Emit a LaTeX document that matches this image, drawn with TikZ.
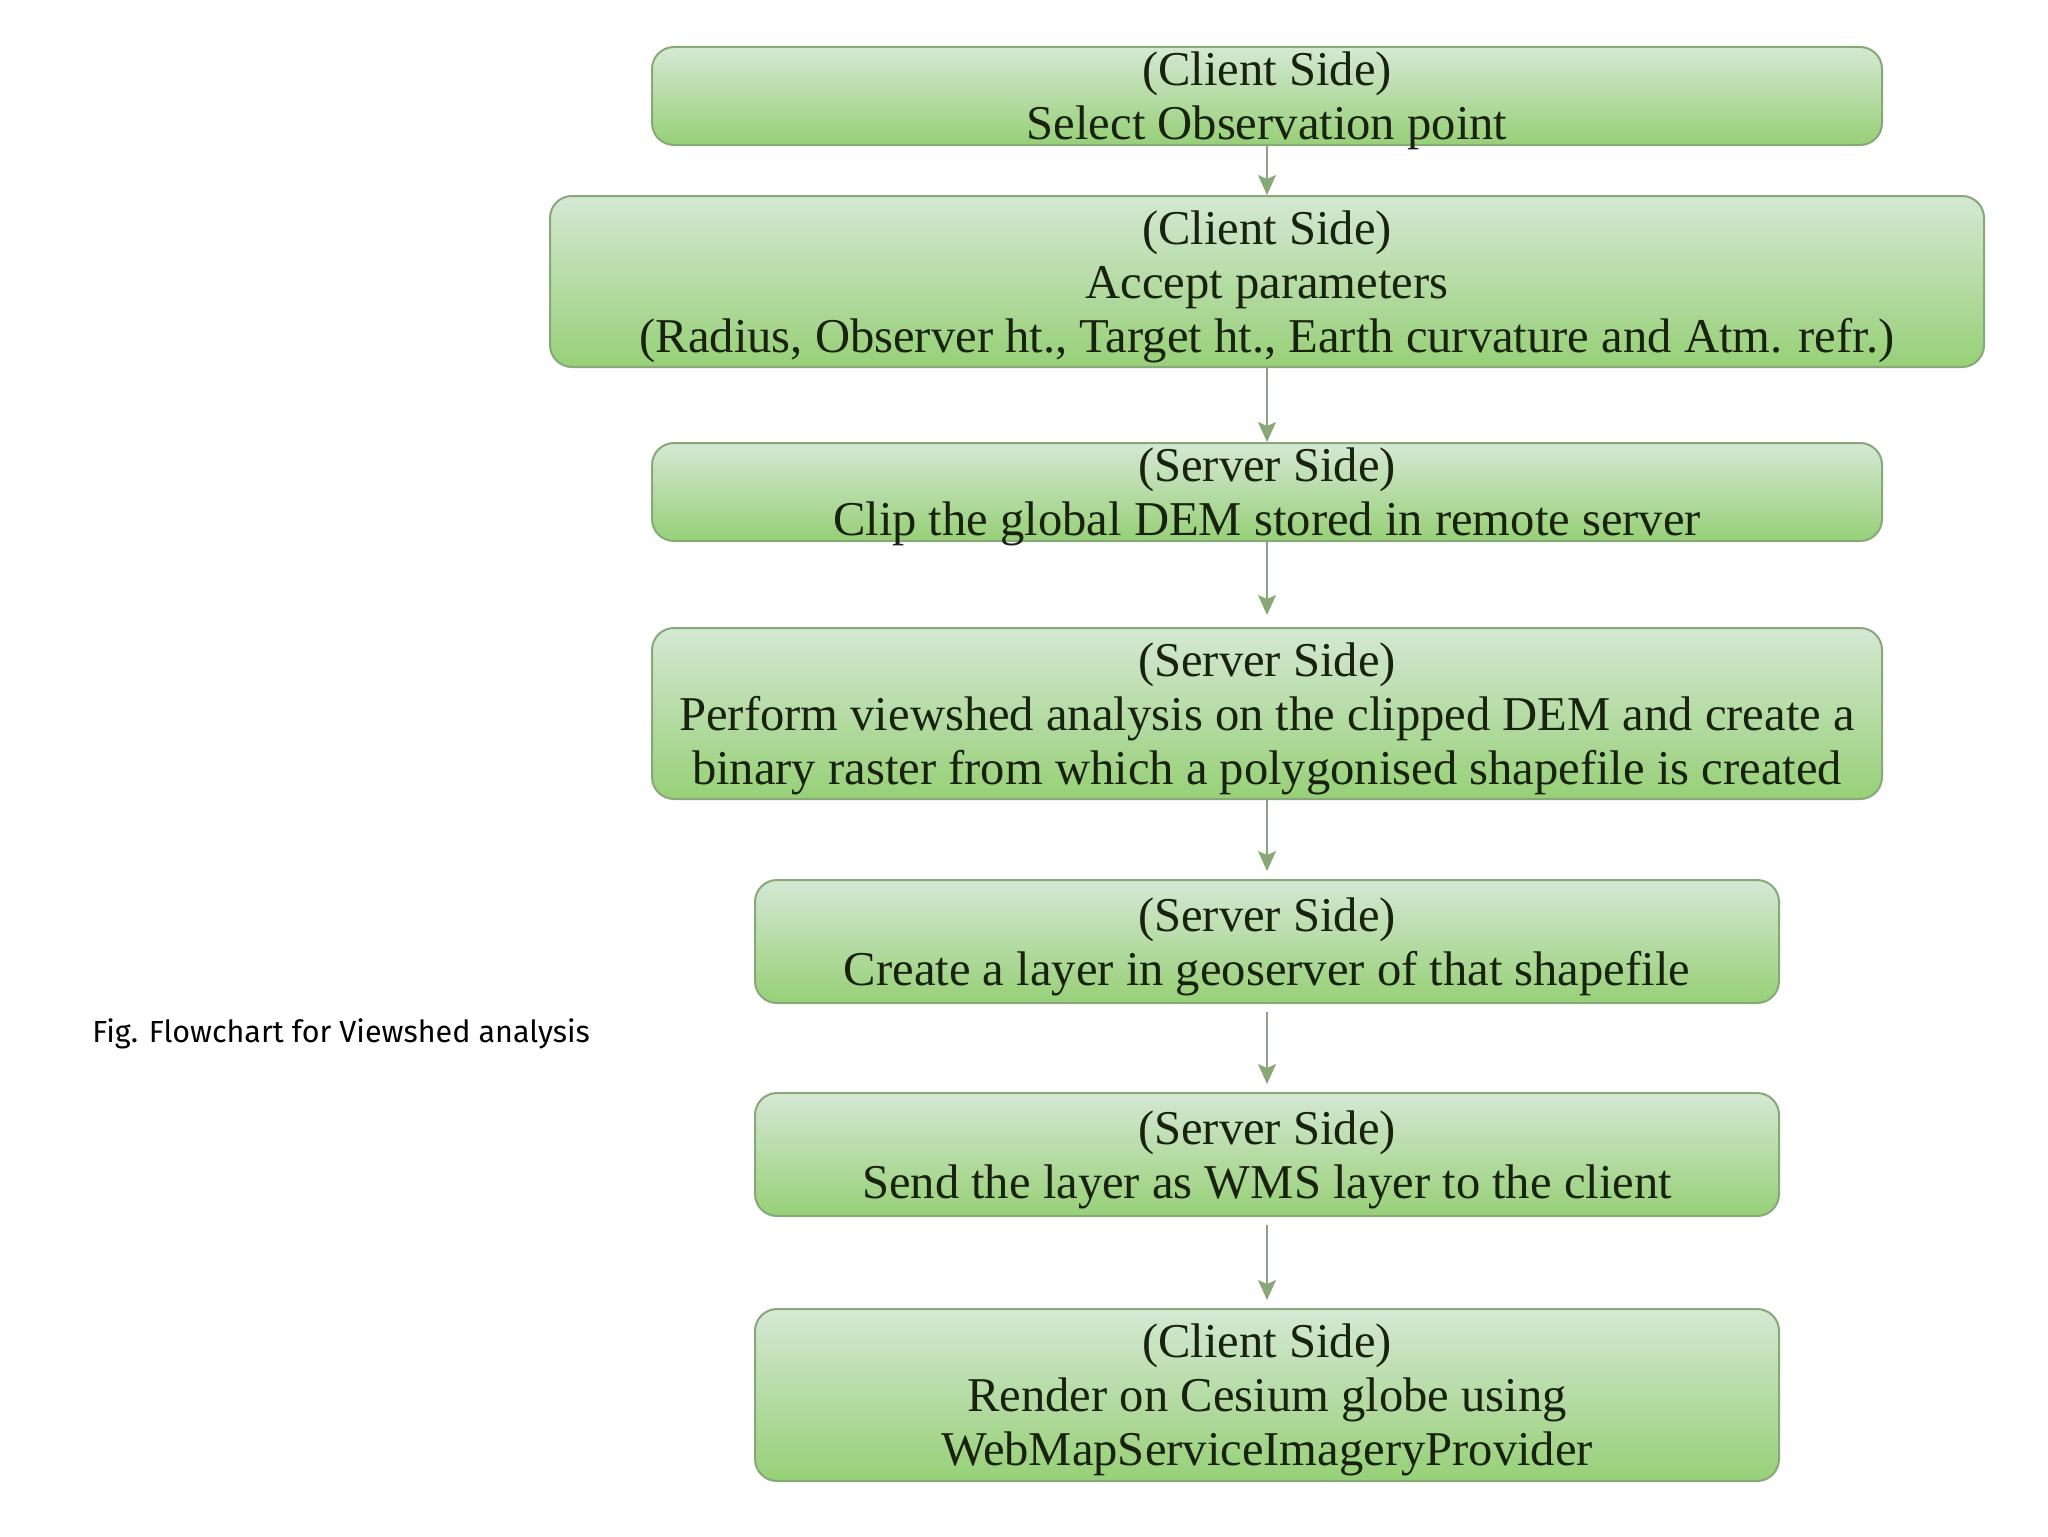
\documentclass[tikz,border=0pt]{standalone}
\usepackage{fontspec}
\setmainfont{Liberation Serif}
\newfontfamily\capfont{Fira Sans}
\usetikzlibrary{arrows.meta,shadings}
\definecolor{boxtop}{HTML}{D5E8D4}
\definecolor{boxbot}{HTML}{97D077}
\definecolor{boxline}{HTML}{88A878}
\definecolor{arrline}{HTML}{8CA084}
\definecolor{txt}{HTML}{18220F}
\tikzset{
  flowbox/.style={draw=boxline, line width=1pt, rounded corners=11pt,
    top color=boxtop, bottom color=boxbot, inner sep=0pt},
  flowtext/.style={text=txt, align=center, inner sep=0pt, yshift=-2.5pt,
    font=\fontsize{24.3}{27}\selectfont},
  flowarrow/.style={draw=arrline, line width=0.8pt,
    -{Stealth[width=9pt,length=10pt,inset=2pt,color=boxline]}},
}
\begin{document}
\begin{tikzpicture}[x=0.5pt,y=-0.5pt]
\useasboundingbox[fill=white] (0,0) rectangle (2048,1536);
\node[flowbox, minimum width=615pt, minimum height=49pt,
  label={[flowtext]center:(Client Side)\\Select Observation point}] (b1) at (1267,96) {};
\node[flowbox, minimum width=717pt, minimum height=85.5pt,
  label={[flowtext]center:(Client Side)\\Accept parameters\\(Radius, Observer ht., Target ht., Earth curvature and Atm. refr.)}] (b2) at (1267,281.5) {};
\node[flowbox, minimum width=615pt, minimum height=49pt,
  label={[flowtext]center:(Server Side)\\Clip the global DEM stored in remote server}] (b3) at (1267,492) {};
\node[flowbox, minimum width=615pt, minimum height=85.5pt,
  label={[flowtext]center:(Server Side)\\Perform viewshed analysis on the clipped DEM and create a\\binary raster from which a polygonised shapefile is created}] (b4) at (1267,713.5) {};
\node[flowbox, minimum width=512pt, minimum height=61.5pt,
  label={[flowtext]center:(Server Side)\\Create a layer in geoserver of that shapefile}] (b5) at (1267,941.5) {};
\node[flowbox, minimum width=512pt, minimum height=61.5pt,
  label={[flowtext]center:(Server Side)\\Send the layer as WMS layer to the client}] (b6) at (1267,1154.5) {};
\node[flowbox, minimum width=512pt, minimum height=86pt,
  label={[flowtext]center:(Client Side)\\Render on Cesium globe using\\WebMapServiceImageryProvider}] (b7) at (1267,1395) {};
\node[anchor=base west, inner sep=0pt, font=\capfont\fontsize{15.25}{18}\selectfont] (cap) at (92,1042)
  {Fig. Flowchart for Viewshed analysis};
\draw[flowarrow] (b1.south) -- (b2.north);
\draw[flowarrow] (b2.south) -- (b3.north);
\draw[flowarrow, shorten >=6pt] (b3.south) -- (b4.north);
\draw[flowarrow, shorten >=4pt] (b4.south) -- (b5.north);
\draw[flowarrow, shorten >=4pt, shorten <=4pt] (b5.south) -- (b6.north);
\draw[flowarrow, shorten >=4pt, shorten <=4pt] (b6.south) -- (b7.north);
\end{tikzpicture}
\end{document}
